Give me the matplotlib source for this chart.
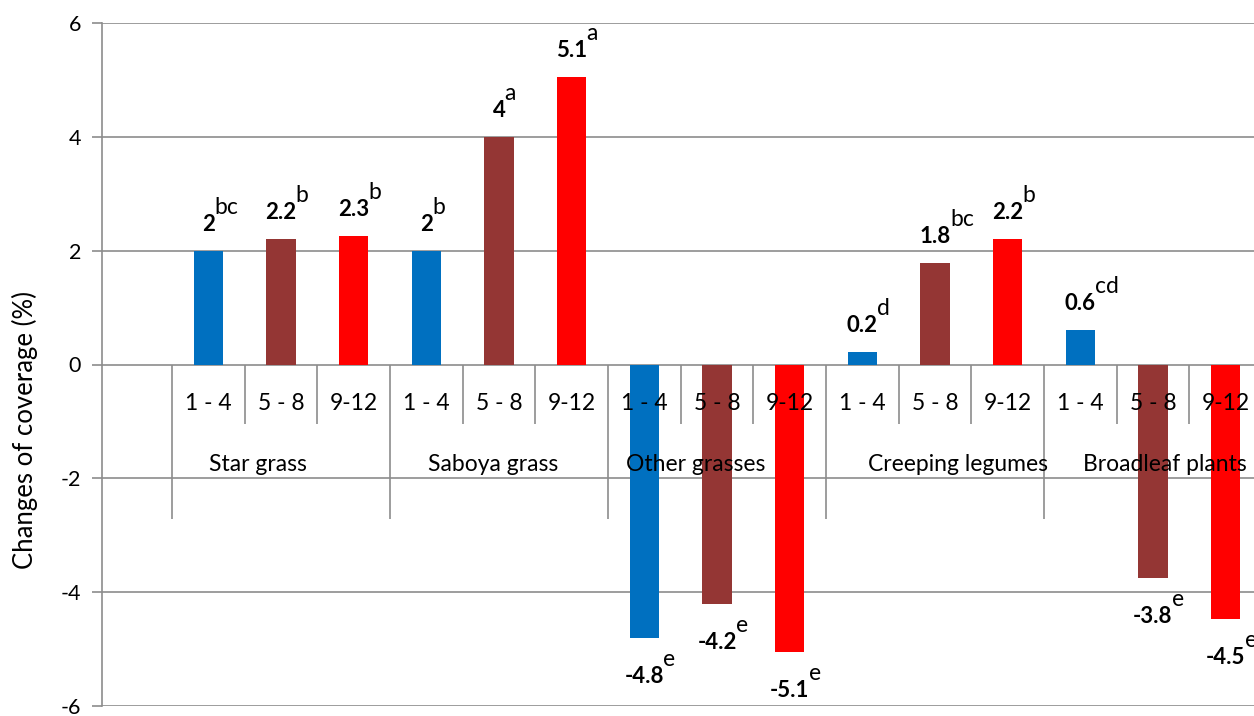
import matplotlib.pyplot as plt
import numpy as np

# months after planting, per plant group
groups = ["Star grass", "Saboya grass", "Other grasses", "Creeping legumes", "Broadleaf plants"]
periods = ["1 - 4", "5 - 8", "9-12"]
values = [2.0, 2.2, 2.25,
          2.0, 4.0, 5.05,
          -4.8, -4.2, -5.05,
          0.22, 1.78, 2.2,
          0.6, -3.75, -4.47]
value_labels = ["2", "2.2", "2.3",
                "2", "4", "5.1",
                "-4.8", "-4.2", "-5.1",
                "0.2", "1.8", "2.2",
                "0.6", "-3.8", "-4.5"]
letters = ["bc", "b", "b",
           "b", "a", "a",
           "e", "e", "e",
           "d", "bc", "b",
           "cd", "e", "e"]
period_colors = ["#0070C0", "#943634", "#FF0000"]
yticks = [-6, -4, -2, 0, 2, 4, 6]

GRID = "#8c8c8c"

plt.rcParams["font.family"] = ["Lato", "DejaVu Sans"]

fig = plt.figure(figsize=(12.54, 7.16), dpi=100)
ax = fig.add_axes([102 / 1254, 10 / 716, 1 - 102 / 1254, 683 / 716])

n = len(values)
x = np.arange(n)
colors = [period_colors[i % 3] for i in range(n)]
ax.bar(x, values, width=0.40, color=colors, zorder=3)

ax.set_xlim(-1.463, 14.39)
ax.set_ylim(-6, 6)
ax.set_yticks(yticks)
ax.set_yticklabels([str(t) for t in yticks], fontsize=15.5)
ax.yaxis.grid(True, color=GRID, linewidth=1.2, zorder=0)
ax.tick_params(axis="y", length=7, width=1.2, color=GRID, pad=8)
ax.set_xticks([])
for side in ["top", "right", "bottom"]:
    ax.spines[side].set_visible(False)
ax.spines["left"].set_color(GRID)
ax.spines["left"].set_linewidth(1.2)

# multi-level category axis drawn at y = 0
for i in range(n):
    ax.text(i, -0.68, periods[i % 3], ha="center", va="center", fontsize=16.5, zorder=5)
inner = [i - 0.5 for i in range(n) if i % 3 != 0]
outer = [i - 0.5 for i in range(0, n, 3)]
ax.vlines(inner, -1.04, 0, color=GRID, linewidth=1.2, zorder=2)
ax.vlines(outer, -2.72, 0, color=GRID, linewidth=1.2, zorder=2)
shifts = [-0.32, -0.08, -0.29, 0.32, 0.16]
for g, name in enumerate(groups):
    ax.text(3 * g + 1 + shifts[g], -1.75, name, ha="center", va="center", fontsize=16.5, zorder=5)

# value labels with letter superscripts
for i, (v, lab, let) in enumerate(zip(values, value_labels, letters)):
    dy = 14.5 if v > 0 else -32.5
    num = ax.annotate(lab, xy=(i, v), xytext=(0, dy), textcoords="offset points",
                      ha="center", va="baseline", fontsize=16, fontweight="bold", zorder=6)
    ax.annotate(let, xy=(1, 1), xycoords=num, xytext=(-0.5, 0), textcoords="offset points",
                ha="left", va="baseline", fontsize=16.5, zorder=6)

fig.text(25 / 1254, 1 - 430 / 716, "Changes of coverage (%)", rotation=90,
         ha="center", va="center", fontsize=18.5)

fig.savefig("out.png", dpi=100)
